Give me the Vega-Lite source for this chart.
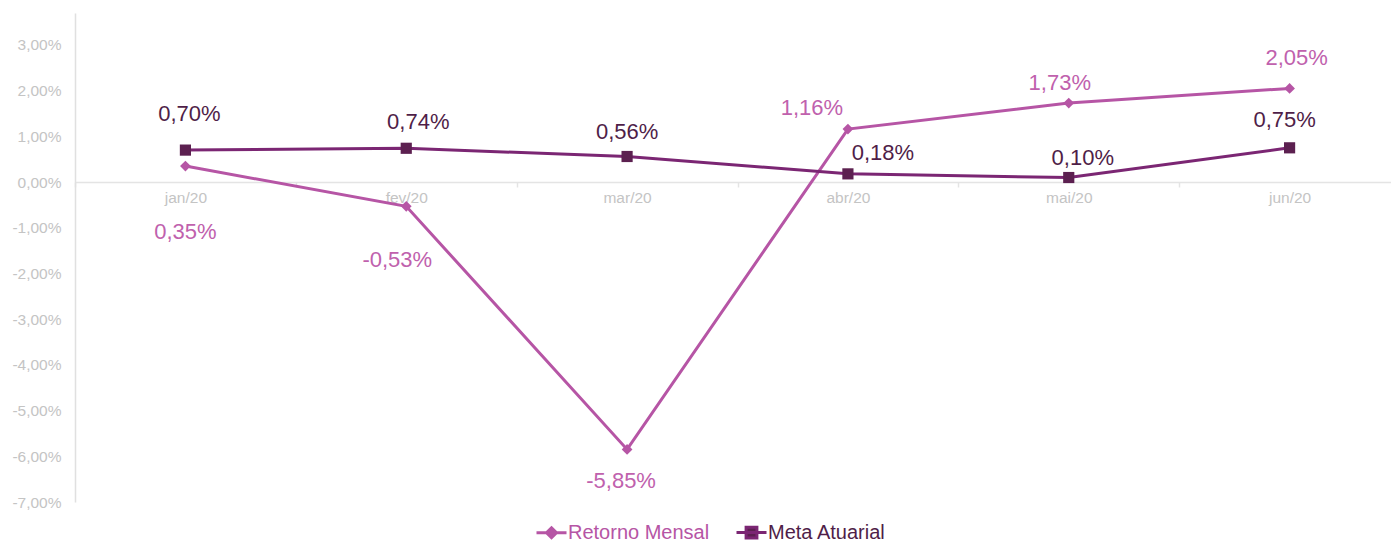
{
  "$schema": "https://vega.github.io/schema/vega-lite/v6.json",
  "width": 1316,
  "height": 489,
  "autosize": {"type": "none"},
  "padding": {"left": 75, "top": 13, "right": 0, "bottom": 40},
  "background": "white",
  "config": {
    "font": "Liberation Sans",
    "view": {"stroke": null},
    "locale": {"number": {"decimal": ",", "thousands": ".", "grouping": [3], "currency": ["R$", ""], "minus": "-"}}
  },
  "data": {
    "values": [
      {"mes": "jan/20", "serie": "Retorno Mensal", "valor": 0.0035},
      {"mes": "fev/20", "serie": "Retorno Mensal", "valor": -0.0053},
      {"mes": "mar/20", "serie": "Retorno Mensal", "valor": -0.0585},
      {"mes": "abr/20", "serie": "Retorno Mensal", "valor": 0.0116},
      {"mes": "mai/20", "serie": "Retorno Mensal", "valor": 0.0173},
      {"mes": "jun/20", "serie": "Retorno Mensal", "valor": 0.0205},
      {"mes": "jan/20", "serie": "Meta Atuarial", "valor": 0.0070},
      {"mes": "fev/20", "serie": "Meta Atuarial", "valor": 0.0074},
      {"mes": "mar/20", "serie": "Meta Atuarial", "valor": 0.0056},
      {"mes": "abr/20", "serie": "Meta Atuarial", "valor": 0.0018},
      {"mes": "mai/20", "serie": "Meta Atuarial", "valor": 0.0010},
      {"mes": "jun/20", "serie": "Meta Atuarial", "valor": 0.0075}
    ]
  },
  "encoding": {
    "x": {
      "field": "mes", "type": "nominal", "sort": null,
      "scale": {"type": "band", "paddingInner": 0, "paddingOuter": 0, "range": [0, 1325]},
      "axis": {
        "title": null, "orient": "bottom", "offset": -320, "labelAngle": 0,
        "domainColor": "#e4e4e4", "domainWidth": 1.5,
        "ticks": true, "tickBand": "extent", "tickColor": "#e4e4e4", "tickSize": 5, "tickWidth": 1.5,
        "labelColor": "#c4c4c4", "labelFontSize": 15.5, "labelPadding": 3, "grid": false
      }
    },
    "y": {
      "field": "valor", "type": "quantitative",
      "scale": {"domain": [-0.07, 0.037], "nice": false, "zero": false},
      "axis": {
        "title": null, "values": [-0.07, -0.06, -0.05, -0.04, -0.03, -0.02, -0.01, 0, 0.01, 0.02, 0.03],
        "format": ".2%", "grid": false, "ticks": false,
        "domainColor": "#e0e0e0", "domainWidth": 1.5,
        "labelColor": "#c4c4c4", "labelFontSize": 15.5, "labelPadding": 14
      }
    }
  },
  "layer": [
    {
      "mark": {"type": "line", "strokeWidth": 3},
      "encoding": {
        "color": {
          "field": "serie", "type": "nominal",
          "scale": {"domain": ["Retorno Mensal", "Meta Atuarial"], "range": ["#b655a5", "#7b2673"]},
          "legend": {
            "title": null, "orient": "none", "direction": "horizontal",
            "legendX": 465, "legendY": 508, "padding": 0,
            "symbolSize": 400, "labelFontSize": 20, "labelOffset": 5, "columnPadding": 20,
            "encode": {
              "symbols": {"update": {
                "shape": {"signal": "datum.label === 'Retorno Mensal' ? 'M-1.5,0H1.5M0,-0.5L0.5,0L0,0.5L-0.5,0Z' : 'M-1.5,0H1.5M-0.54,-0.54H0.54V0.54H-0.54Z'"},
                "fill": {"signal": "datum.label === 'Retorno Mensal' ? '#b655a5' : '#5c2050'"},
                "stroke": {"signal": "datum.label === 'Retorno Mensal' ? '#b655a5' : '#6e2366'"},
                "strokeWidth": {"value": 3},
                "opacity": {"value": 1}
              }},
              "labels": {"update": {
                "fill": {"signal": "datum.label === 'Retorno Mensal' ? '#b655a5' : '#4f1e48'"}
              }}
            }
          }
        }
      }
    },
    {
      "mark": {"type": "point", "filled": true, "opacity": 1},
      "encoding": {
        "shape": {"field": "serie", "type": "nominal", "scale": {"domain": ["Retorno Mensal", "Meta Atuarial"], "range": ["diamond", "square"]}, "legend": null},
        "size": {"field": "serie", "type": "nominal", "scale": {"domain": ["Retorno Mensal", "Meta Atuarial"], "range": [115, 125]}, "legend": null},
        "fill": {"field": "serie", "type": "nominal", "scale": {"domain": ["Retorno Mensal", "Meta Atuarial"], "range": ["#b655a5", "#5c2050"]}, "legend": null}
      }
    },
    {
      "transform": [{"filter": "datum.serie === 'Meta Atuarial'"}],
      "mark": {
        "type": "text", "fontSize": 22, "color": "#4f1e48", "baseline": "middle",
        "dx": {"expr": "[4,12,0,35,14,-5][indexof(['jan/20','fev/20','mar/20','abr/20','mai/20','jun/20'], datum.mes)]"},
        "dy": {"expr": "[-36,-26,-25,-21,-20,-28][indexof(['jan/20','fev/20','mar/20','abr/20','mai/20','jun/20'], datum.mes)]"}
      },
      "encoding": {"text": {"field": "valor", "type": "quantitative", "format": ".2%"}}
    },
    {
      "transform": [{"filter": "datum.serie === 'Retorno Mensal'"}],
      "mark": {
        "type": "text", "fontSize": 22, "color": "#c061ad", "baseline": "middle",
        "dx": {"expr": "[0,-9,-6,-36,-9,7][indexof(['jan/20','fev/20','mar/20','abr/20','mai/20','jun/20'], datum.mes)]"},
        "dy": {"expr": "[66,54,32,-21,-20,-30][indexof(['jan/20','fev/20','mar/20','abr/20','mai/20','jun/20'], datum.mes)]"}
      },
      "encoding": {"text": {"field": "valor", "type": "quantitative", "format": ".2%"}}
    }
  ],
  "resolve": {"scale": {"color": "independent"}}
}
